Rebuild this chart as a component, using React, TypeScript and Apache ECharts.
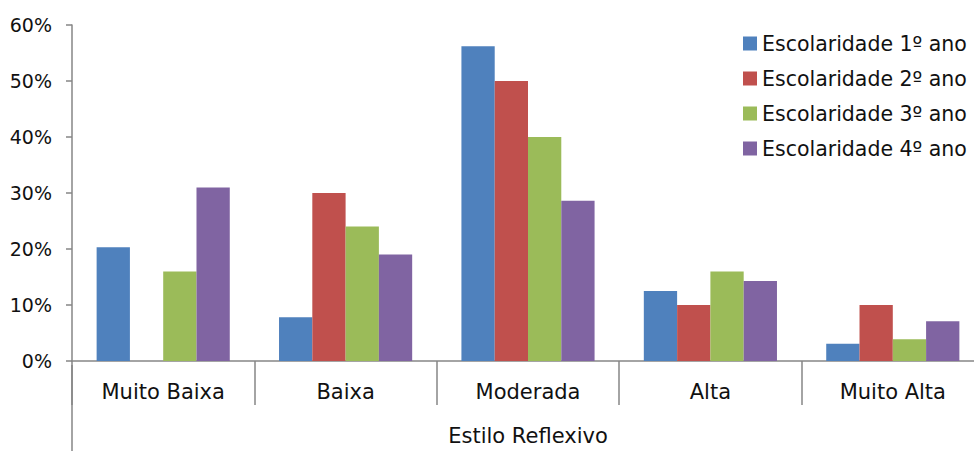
import React, { useEffect, useRef } from "react";
import * as echarts from "echarts";

const categories = ["Muito Baixa", "Baixa", "Moderada", "Alta", "Muito Alta"];
const seriesNames = [
  "Escolaridade 1º ano",
  "Escolaridade 2º ano",
  "Escolaridade 3º ano",
  "Escolaridade 4º ano",
];
const ano1 = [20.3, 7.8, 56.2, 12.5, 3.1];
const ano2 = [0, 30, 50, 10, 10];
const ano3 = [16, 24, 40, 16, 3.9];
const ano4 = [31, 19, 28.6, 14.3, 7.1];
const colors = ["#4F81BD", "#C0504D", "#9BBB59", "#8064A2"];
const axisName = "Estilo Reflexivo";

export default function App() {
  const ref = useRef<HTMLDivElement>(null);
  useEffect(() => {
    if (!ref.current) return;
    const chart = echarts.init(ref.current, undefined, { renderer: "svg" });
    const font = "DejaVu Sans";
    const data = [ano1, ano2, ano3, ano4];
    chart.setOption({
      animation: false,
      textStyle: { fontFamily: font },
      grid: { left: 72, right: 0, top: 25, bottom: 85, containLabel: false },
      legend: {
        orient: "vertical",
        left: 738,
        top: 28,
        itemWidth: 14,
        itemHeight: 14,
        itemGap: 14,
        icon: "rect",
        textStyle: { fontFamily: font, fontSize: 20.5, color: "#111", lineHeight: 21 },
        data: seriesNames,
      },
      xAxis: {
        type: "category",
        data: categories,
        name: axisName,
        nameLocation: "middle",
        nameGap: 64,
        nameTextStyle: { fontFamily: font, fontSize: 21, color: "#111" },
        axisLine: { lineStyle: { color: "#868686", width: 1.5 } },
        axisTick: { show: true, length: 44, lineStyle: { color: "#868686", width: 1.5 } },
        axisLabel: { fontFamily: font, fontSize: 21, color: "#111", margin: 20 },
      },
      yAxis: {
        type: "value",
        min: 0,
        max: 60,
        interval: 10,
        splitLine: { show: false },
        axisLine: { show: true, lineStyle: { color: "#868686", width: 1.5 } },
        axisTick: { show: true, length: 6, lineStyle: { color: "#868686", width: 1.5 } },
        axisLabel: {
          fontFamily: font,
          fontSize: 19,
          color: "#111",
          margin: 20,
          formatter: "{value}%",
        },
      },
      graphic: [
        {
          type: "line",
          shape: { x1: 72, y1: 365, x2: 72, y2: 451 },
          style: { stroke: "#868686", lineWidth: 1.5 },
        },
      ],
      series: seriesNames.map((name, i) => ({
        name,
        type: "bar",
        data: data[i],
        barGap: "0%",
        barCategoryGap: "27%",
        itemStyle: { color: colors[i] },
      })),
    });
    return () => chart.dispose();
  }, []);
  return (
    <div style={{ position: "fixed", left: 0, top: 0, width: 974, height: 451, overflow: "hidden", background: "#fff" }}>
      <div ref={ref} style={{ width: 984, height: 451 }} />
    </div>
  );
}
